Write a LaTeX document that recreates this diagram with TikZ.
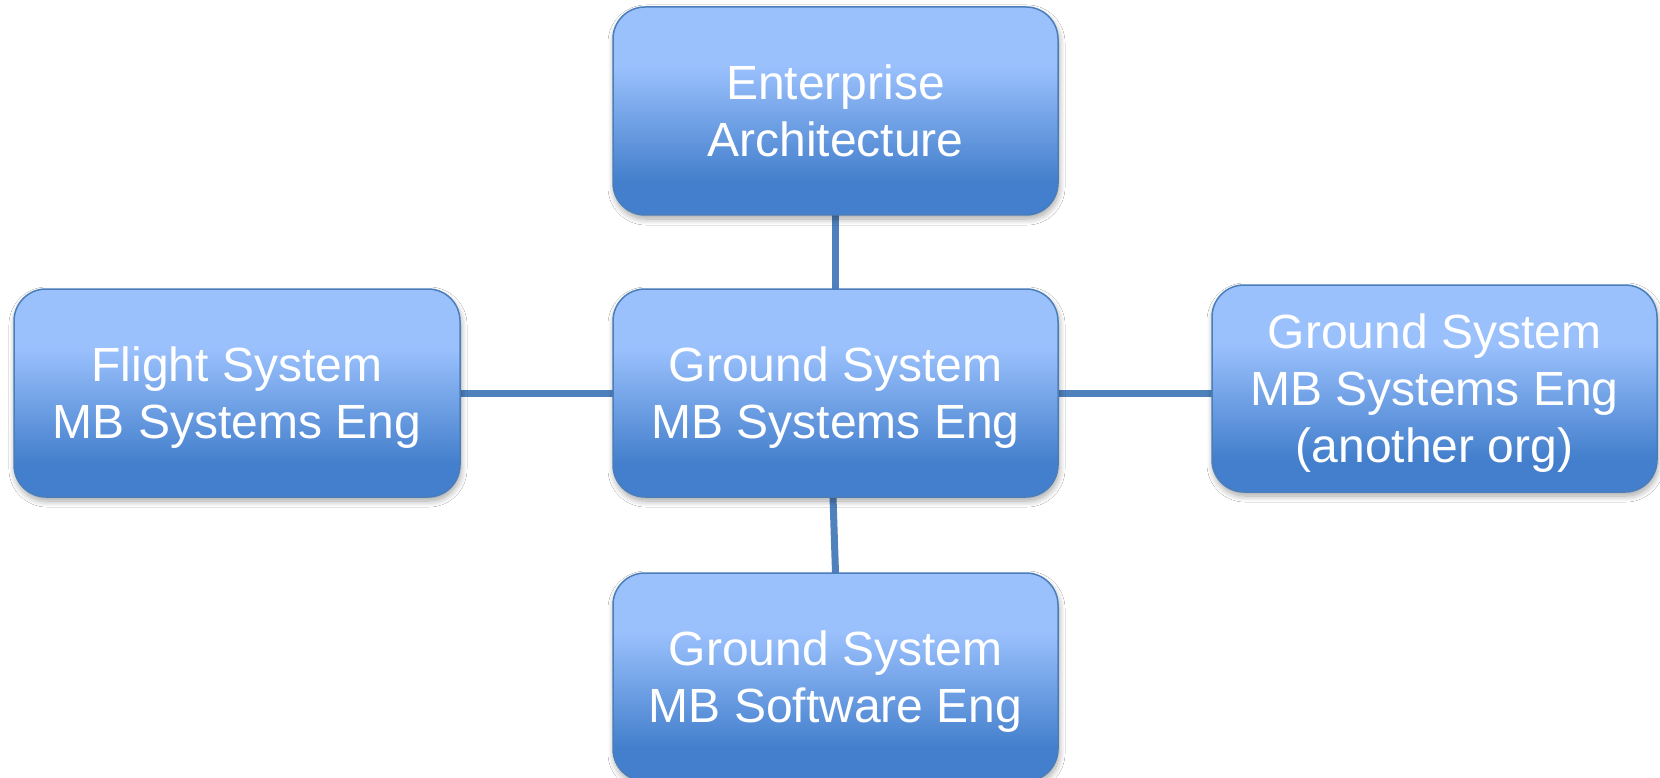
\documentclass[tikz,border=0pt]{standalone}
\usepackage{fontspec}
\setmainfont{Liberation Sans}
\usetikzlibrary{shadows.blur}

\definecolor{boxlight}{RGB}{155,193,253}
\definecolor{boxdark}{RGB}{67,127,204}
\definecolor{boxborder}{RGB}{74,126,187}
\definecolor{linkblue}{RGB}{79,129,189}

% vertical fill: dark plateau at the bottom, light plateau at the top
\pgfdeclareverticalshading{boxfill}{100bp}{%
  color(0bp)=(boxdark); color(33bp)=(boxdark);
  color(61bp)=(boxlight); color(100bp)=(boxlight)}

% last line of a box label: no depth, so the text centres on caps-to-baseline
\newcommand{\lastrow}[1]{\smash{#1}}

\tikzset{
  orgbox/.style={
    rectangle, rounded corners=32pt, draw=boxborder, line width=1.5pt,
    shading=boxfill, minimum width=445pt, minimum height=208pt,
    inner sep=0pt, align=center, text=white,
    font=\fontsize{48}{57}\selectfont,
    blur shadow={shadow xshift=1pt, shadow yshift=-4pt,
      shadow blur radius=6pt, shadow blur steps=10, shadow opacity=35}},
  link/.style={draw=linkblue, line width=7pt}
}

\begin{document}
\begin{tikzpicture}[x=1pt, y=-1pt]
  \clip (0,0) rectangle (1660,778);
  \fill[white] (0,0) rectangle (1660,778);

  % connectors (drawn first so the boxes sit on top)
  \coordinate (hubN) at (835.5,289);
  \coordinate (hubS) at (833,497);
  \coordinate (hubW) at (613,393);
  \coordinate (hubE) at (1058,393);
  \coordinate (topS) at (835.5,215);
  \coordinate (botN) at (835.5,573);
  \coordinate (leftE) at (460,393);
  \coordinate (rightW) at (1212,393);
  \draw[link] (topS) -- (hubN);
  \draw[link] (hubS) -- (botN);
  \draw[link] (leftE) -- (hubW);
  \draw[link] (hubE) -- (rightW);

  % organisation boxes
  \node[orgbox] (ea)    at (835.5,111)   {Enterprise\\\lastrow{Architecture}};
  \node[orgbox] (hub)   at (835.5,393)   {Ground System\\\lastrow{MB Systems Eng}};
  \node[orgbox, minimum width=446pt] (fs) at (237,393)
        {Flight System\\\lastrow{MB Systems Eng}};
  \node[orgbox, minimum height=207pt] (other) at (1434.5,388.5)
        {Ground System\\MB Systems Eng\\\lastrow{(another org)}};
  \node[orgbox] (sw)    at (835.5,677)   {Ground System\\\lastrow{MB Software Eng}};
\end{tikzpicture}
\end{document}
